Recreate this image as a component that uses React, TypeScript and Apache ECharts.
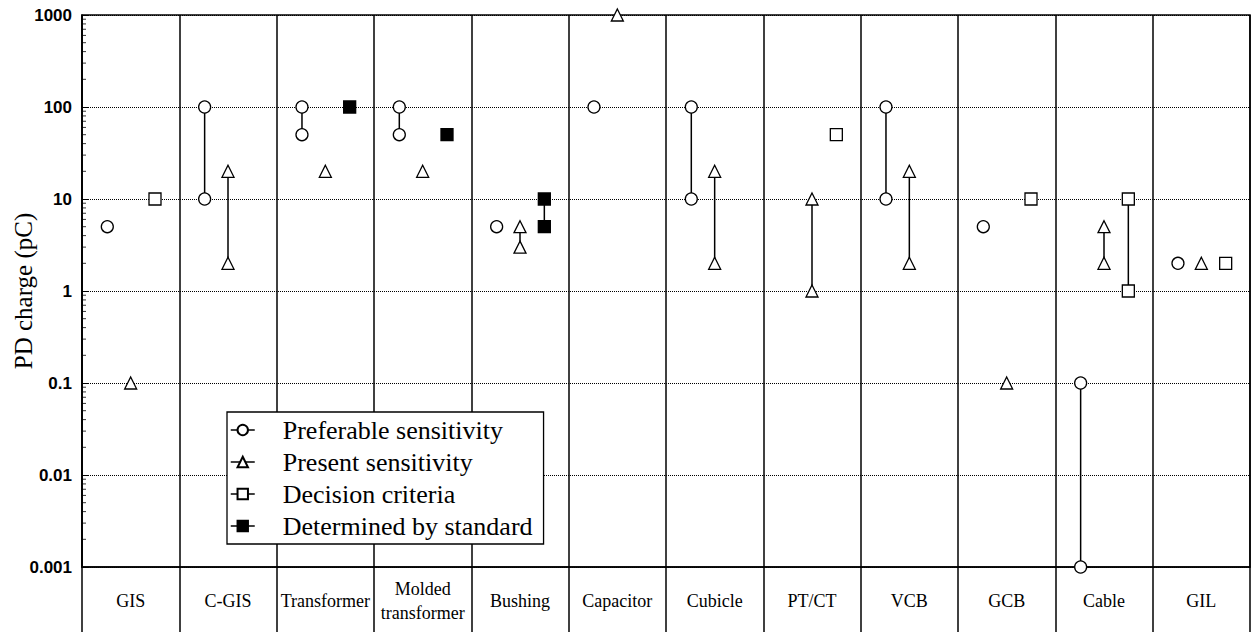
import React, { useEffect, useRef } from 'react';
import * as echarts from 'echarts';

const categories = ['GIS', 'C-GIS', 'Transformer', 'Molded\ntransformer', 'Bushing', 'Capacitor', 'Cubicle', 'PT/CT', 'VCB', 'GCB', 'Cable', 'GIL'];

// values per category (one value = single marker, two values = range)
const preferable: number[][] = [[5], [10, 100], [50, 100], [50, 100], [5], [100], [10, 100], [], [10, 100], [5], [0.001, 0.1], [2]];
const present: number[][] = [[0.1], [2, 20], [20], [20], [3, 5], [1000], [2, 20], [1, 10], [2, 20], [0.1], [2, 5], [2]];
const decision: number[][] = [[10], [], [], [], [], [], [], [50], [], [10], [1, 10], [2]];
const standard: number[][] = [[], [], [100], [50], [5, 10], [], [], [], [], [], [], []];

const yTickLabels = ['0.001', '0.01', '0.1', '1', '10', '100', '1000'];
const minorMultipliers = [2, 3, 4, 5, 6, 7, 8, 9];
const decades = [0.001, 0.01, 0.1, 1, 10, 100];

const seriesNames = ['Preferable sensitivity', 'Present sensitivity', 'Decision criteria', 'Determined by standard'];

function buildData(values: number[][], slot: number) {
  const out: any[] = [];
  values.forEach((vals, i) => {
    if (!vals.length) return;
    vals.forEach((v) => out.push([i + slot, v]));
    out.push([i + slot, '-']);
  });
  return out;
}

export default function App() {
  const ref = useRef<HTMLDivElement>(null);
  useEffect(() => {
    if (!ref.current) return;
    const chart = echarts.init(ref.current, undefined, { renderer: 'svg' });
    const minorData: number[][] = [];
    decades.forEach((d) => minorMultipliers.forEach((m) => minorData.push([0, d * m])));

    const mk = (name: string, values: number[][], slot: number, symbol: string, size: number, fill: string) => ({
      name,
      type: 'line',
      xAxisIndex: 0,
      yAxisIndex: 0,
      data: buildData(values, slot),
      symbol,
      symbolSize: size,
      showSymbol: true,
      showAllSymbol: true,
      connectNulls: false,
      clip: false,
      lineStyle: { color: '#000', width: 1.5 },
      itemStyle: { color: fill, borderColor: '#000', borderWidth: 1.3 },
      emphasis: { disabled: true },
      z: 5,
    });

    const serif = '"Liberation Serif", "Times New Roman", serif';
    const sans = '"Liberation Sans", Arial, sans-serif';

    chart.setOption({
      animation: false,
      backgroundColor: '#fff',
      grid: {
        left: 82,
        right: 2,
        top: 15,
        bottom: 65,
        show: true,
        borderColor: '#000',
        borderWidth: 1.5,
        containLabel: false,
        outerBoundsMode: 'none',
      },
      legend: {
        data: seriesNames,
        orient: 'vertical',
        left: 227,
        top: 412,
        padding: [2, 11, 2, 3],
        itemGap: 0,
        itemWidth: 24,
        itemHeight: 13,
        selectedMode: false,
        backgroundColor: '#fff',
        borderColor: '#000',
        borderWidth: 1.3,
        borderRadius: 0,
        lineStyle: { color: '#000', width: 1.5, opacity: 1 },
        textStyle: { fontFamily: serif, fontSize: 26, color: '#000', lineHeight: 32, padding: [0, 0, 0, 23] },
        z: 10,
      },
      xAxis: [
        { type: 'value', min: 0, max: 12, show: false, gridIndex: 0 },
        {
          type: 'category',
          gridIndex: 0,
          position: 'bottom',
          data: categories,
          boundaryGap: true,
          axisLine: { show: true, lineStyle: { color: '#000', width: 1.5 } },
          axisTick: { show: true, interval: 0, alignWithLabel: false, length: 65, lineStyle: { color: '#000', width: 1.5 } },
          splitLine: { show: true, interval: 0, lineStyle: { color: '#000', width: 1.5, type: 'solid' } },
          axisLabel: {
            interval: 0,
            margin: 34,
            verticalAlign: 'middle',
            fontFamily: serif,
            fontSize: 18,
            lineHeight: 24,
            color: '#000',
          },
        },
      ],
      yAxis: {
        type: 'log',
        logBase: 10,
        min: 0.001,
        max: 1000,
        splitNumber: 6,
        name: 'PD charge (pC)',
        nameLocation: 'middle',
        nameRotate: 90,
        nameGap: 46,
        nameMoveOverlap: false,
        nameTextStyle: { fontFamily: serif, fontSize: 25, color: '#000' },
        axisLine: { show: true, lineStyle: { color: '#000', width: 1.5 } },
        axisTick: { show: true, inside: true, length: 6, lineStyle: { color: '#000', width: 1 } },
        splitLine: { show: true, lineStyle: { color: '#000', width: 1, type: 'dotted' } },
        axisLabel: {
          showMinLabel: true,
          showMaxLabel: true,
          margin: 10,
          fontFamily: sans,
          fontSize: 17,
          fontWeight: 'bold',
          color: '#000',
          formatter: (v: number) => yTickLabels[Math.round(Math.log10(v)) + 3] ?? String(v),
        },
      },
      series: [
        {
          type: 'scatter',
          name: 'minorTicks',
          xAxisIndex: 0,
          yAxisIndex: 0,
          silent: true,
          data: minorData,
          symbol: 'rect',
          symbolSize: [4, 1],
          symbolOffset: [2, 0],
          itemStyle: { color: '#000' },
          clip: false,
          z: 3,
        },
        mk(seriesNames[0], preferable, 0.26, 'circle', 12, '#fff'),
        mk(seriesNames[1], present, 0.5, 'triangle', 12, '#fff'),
        mk(seriesNames[2], decision, 0.75, 'rect', 12, '#fff'),
        mk(seriesNames[3], standard, 0.75, 'rect', 12, '#000'),
      ],
    });
    return () => chart.dispose();
  }, []);
  return <div ref={ref} style={{ position: 'absolute', left: 0, top: 0, width: 1252, height: 632 }} />;
}
